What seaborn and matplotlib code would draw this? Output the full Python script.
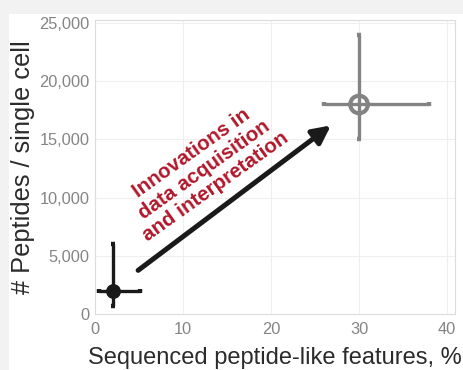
import matplotlib
matplotlib.use("Agg")
import matplotlib.pyplot as plt
import seaborn as sns
import pandas as pd
import numpy as np

# ---- data ----
labels = ["before", "after"]
features = [2, 30]
peptides = [2000, 18000]
feat_lo = [0.4, 26]
feat_hi = [5.1, 38]
pep_lo = [700, 15000]
pep_hi = [6000, 24000]
colors = ["#1a1a1a", "#838383"]
arrow_start = (4.9, 3750)
arrow_end = (26.8, 16200)
xticks = [0, 10, 20, 30, 40]
yticks = [0, 5000, 10000, 15000, 20000, 25000]
ytick_labels = ["0", "5,000", "10,000", "15,000", "20,000", "25,000"]

df = pd.DataFrame({"label": labels, "features": features, "peptides": peptides})

sns.set_theme(style="whitegrid")
plt.rcParams["font.family"] = ["Liberation Sans", "DejaVu Sans"]

fig = plt.figure(figsize=(4.63, 3.70), dpi=100, facecolor="#f2f2f2")
bg = fig.add_axes([9 / 463, 0, 1 - 9 / 463, 1 - 14 / 370], zorder=-5)
bg.set_facecolor("white")
bg.set_xticks([]); bg.set_yticks([])
for s in bg.spines.values():
    s.set_visible(False)

ax = fig.add_axes([95 / 463, 1 - 314 / 370, 360 / 463, (314 - 19.5) / 370], zorder=1)
ax.set_facecolor("white")

# error bars
for i in range(len(labels)):
    xe = [[features[i] - feat_lo[i]], [feat_hi[i] - features[i]]]
    ye = [[peptides[i] - pep_lo[i]], [pep_hi[i] - peptides[i]]]
    ax.errorbar([features[i]], [peptides[i]], xerr=xe, yerr=ye, fmt="none",
                ecolor=colors[i], elinewidth=2.4, capsize=1.6, capthick=3.2, zorder=3)

# markers
sns.scatterplot(data=df.iloc[[0]], x="features", y="peptides", ax=ax, s=115,
                color=colors[0], edgecolor=colors[0], linewidth=0, zorder=4, legend=False)
sns.scatterplot(data=df.iloc[[1]], x="features", y="peptides", ax=ax, s=160,
                facecolor="none", edgecolor=colors[1], linewidth=3.0, zorder=4, legend=False)

# arrow
ax.annotate("", xy=arrow_end, xytext=arrow_start,
            arrowprops=dict(arrowstyle="-|>,head_length=0.9,head_width=0.45",
                            color="#1a1a1a", lw=3.6, shrinkA=0, shrinkB=0), zorder=5)
ax.text(12.35, 12400, "Innovations in\ndata acquisition\nand interpretation",
        rotation=35.5, rotation_mode="anchor", ha="center", va="center",
        color="#b0182a", fontsize=14.8, fontweight="bold", linespacing=1.12,
        transform=ax.transData)

ax.set_xlim(0, 40.9)
ax.set_ylim(0, 25300)
ax.set_xticks(xticks)
ax.set_yticks(yticks)
ax.set_yticklabels(ytick_labels)
ax.tick_params(axis="both", colors="#858585", labelsize=11.8, length=0)
ax.tick_params(axis="x", pad=6)
ax.tick_params(axis="y", pad=4)
ax.grid(True, color="#efefef", linewidth=0.8)
for s in ax.spines.values():
    s.set_color("#dcdcdc")
    s.set_linewidth(0.8)

ax.set_xlabel("Sequenced peptide-like features, %", fontsize=17, color="#2b2b2b", labelpad=7)
ax.set_ylabel("# Peptides / single cell", fontsize=18.3, color="#2b2b2b", labelpad=3)

fig.savefig("out.png", dpi=100, facecolor=fig.get_facecolor())
